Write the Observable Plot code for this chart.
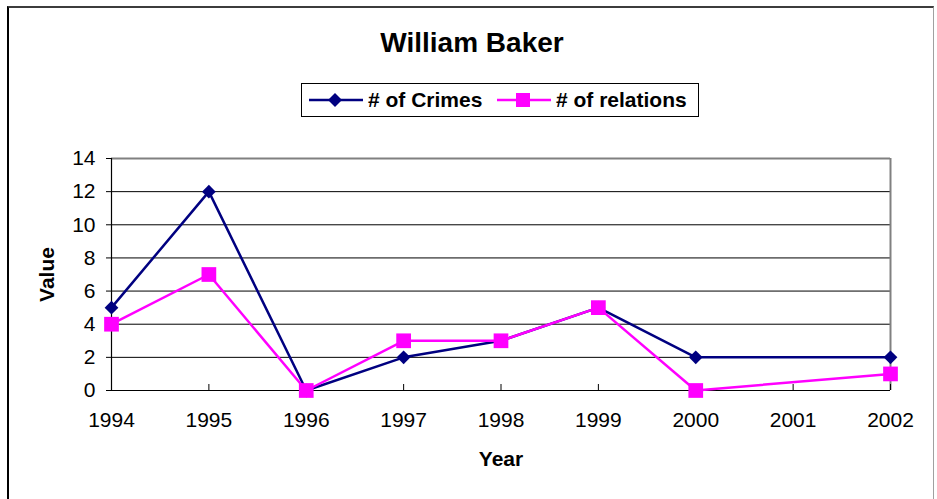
<!DOCTYPE html>
<html>
<head>
<meta charset="utf-8">
<script src="https://cdn.jsdelivr.net/npm/d3@7"></script>
<script src="https://cdn.jsdelivr.net/npm/@observablehq/plot@0.6"></script>
<style>
  body { margin: 0; background: #fff; }
  #wrap { position: relative; width: 937px; height: 499px; overflow: hidden; background: #fff;
          font-family: "Liberation Sans", Arial, sans-serif; }
  #frame { position: absolute; left: 7px; top: 6px; width: 927px; height: 600px;
           border-left: 2px solid #000; border-top: 2px solid #3c3c3c; border-right: 1px solid #a0a0a0;
           box-sizing: border-box; pointer-events: none; }
  #title { position: absolute; left: 0; top: 29px; width: 944px; text-align: center;
           font-size: 28px; font-weight: bold; line-height: 28px; color: #000; }
  #legend { position: absolute; left: 301px; top: 83px; width: 398px; height: 34px;
            border: 1px solid #000; box-sizing: border-box; background: #fff; }
  .item { position: absolute; top: 0; height: 32px; }
  .item svg { position: absolute; top: 0; }
  .item span { position: absolute; top: 5px; font-size: 21px; font-weight: bold; line-height: 22px; white-space: nowrap; }
  #chart { position: absolute; left: 0; top: 130px; }
</style>
</head>
<body>
<div id="wrap">
  <div id="title"></div>
  <div id="legend"></div>
  <div id="chart"></div>
  <div id="frame"></div>
</div>
<script>
const titleText = "William Baker";
const years = [1994, 1995, 1996, 1997, 1998, 1999, 2000, 2001, 2002];
const crimes = [5, 12, 0, 2, 3, 5, 2, null, 2];
const relations = [4, 7, 0, 3, 3, 5, 0, null, 1];
const yTicks = [0, 2, 4, 6, 8, 10, 12, 14];
const seriesNames = ["# of Crimes", "# of relations"];
const seriesColors = ["#000080", "#FF00FF"];
const xLabel = "Year";
const yLabel = "Value";

document.getElementById("title").textContent = titleText;

// Legend
const legend = document.getElementById("legend");
const itemLeft = [6, 194];
seriesNames.forEach((name, i) => {
  const item = document.createElement("div");
  item.className = "item";
  item.style.left = itemLeft[i] + "px";
  const sym = i === 0
    ? `<path d="M27,9 L34,16 L27,23 L20,16 Z" fill="${seriesColors[i]}"/>`
    : `<rect x="20" y="9" width="14" height="14" fill="${seriesColors[i]}"/>`;
  item.innerHTML = `<svg width="56" height="32"><line x1="1" x2="55" y1="16" y2="16" stroke="${seriesColors[i]}" stroke-width="2.5"/>${sym}</svg><span style="left:60px">${name}</span>`;
  legend.appendChild(item);
});

const table = years.map((year, i) => ({year, crimes: crimes[i], relations: relations[i]}));
const crimeData = table.filter(d => d.crimes != null);
const relData = table.filter(d => d.relations != null);

const chart = Plot.plot({
  width: 937,
  height: 369,
  marginTop: 28,
  marginLeft: 111,
  marginRight: 47,
  marginBottom: 109,
  style: {fontFamily: "Liberation Sans, Arial, sans-serif", fontSize: "21px", color: "#000", background: "transparent"},
  x: {domain: [1994, 2002]},
  y: {domain: [0, 14]},
  marks: [
    Plot.ruleY(yTicks.filter(v => v > 0 && v < 14), {stroke: "#000", strokeWidth: 1}),
    Plot.ruleY([14], {stroke: "#808080", strokeWidth: 2}),
    Plot.ruleX([2002], {stroke: "#808080", strokeWidth: 2}),
    Plot.ruleY([0], {stroke: "#000", strokeWidth: 1.2}),
    Plot.ruleX([1994], {stroke: "#000", strokeWidth: 1.2}),
    Plot.ruleX(years, {x: d => d, y1: 0, y2: 0, insetTop: -6, stroke: "#000", strokeWidth: 1}),
    Plot.axisY({ticks: yTicks, tickSize: 5, tickPadding: 11, tickFormat: d => String(d), fontSize: 21, label: null, stroke: "#000"}),
    Plot.axisX({ticks: years, tickSize: 0, tickPadding: 22, tickFormat: d => String(d), fontSize: 21, label: null}),
    Plot.text([xLabel], {text: d => d, frameAnchor: "bottom", dy: 69, textAnchor: "middle", lineAnchor: "middle", fontWeight: "bold", fontSize: 21}),
    Plot.text([yLabel], {text: d => d, frameAnchor: "left", dx: -64, rotate: -90, textAnchor: "middle", lineAnchor: "middle", fontWeight: "bold", fontSize: 21}),
    Plot.line(crimeData, {x: "year", y: "crimes", stroke: seriesColors[0], strokeWidth: 2.5}),
    Plot.dot(crimeData, {x: "year", y: "crimes", symbol: "diamond2", r: 6.2, fill: seriesColors[0], stroke: "none"}),
    Plot.line(relData, {x: "year", y: "relations", stroke: seriesColors[1], strokeWidth: 2.5}),
    Plot.dot(relData, {x: "year", y: "relations", symbol: "square", r: 8.3, fill: seriesColors[1], stroke: "none"})
  ]
});
document.getElementById("chart").appendChild(chart);
</script>
</body>
</html>
